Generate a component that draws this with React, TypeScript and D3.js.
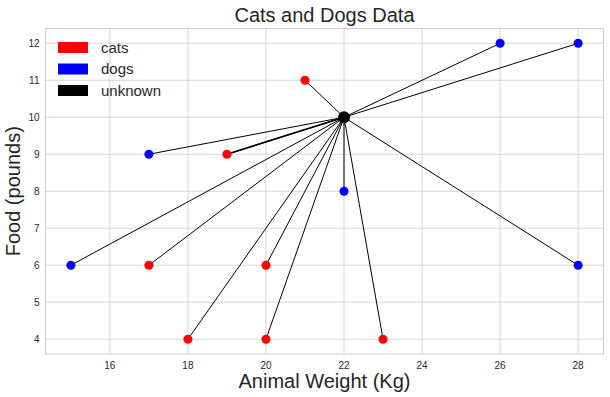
import * as d3 from "d3";

const catsX = [21, 19, 17, 20, 18, 20, 23];
const catsY = [11, 9, 6, 6, 4, 4, 4];
const dogsX = [26, 28, 17, 22, 15, 28];
const dogsY = [12, 12, 9, 8, 6, 6];
const unknownX = [22];
const unknownY = [10];
const xTicks = [16, 18, 20, 22, 24, 26, 28];
const yTicks = [4, 5, 6, 7, 8, 9, 10, 11, 12];
const legendItems = [
  { label: "cats", color: "#ff0000" },
  { label: "dogs", color: "#0000ff" },
  { label: "unknown", color: "#000000" },
];

const W = 610;
const H = 397;
const margin = { top: 28.5, right: 6.5, bottom: 43, left: 45.5 };
const font = "'Liberation Sans', Arial, sans-serif";

export default function App() {
  const x = d3
    .scaleLinear()
    .domain([14.35, 28.65])
    .range([margin.left, W - margin.right]);
  const y = d3
    .scaleLinear()
    .domain([3.6, 12.4])
    .range([H - margin.bottom, margin.top]);

  const cats = catsX.map((v, i) => ({ x: v, y: catsY[i] }));
  const dogs = dogsX.map((v, i) => ({ x: v, y: dogsY[i] }));
  const center = { x: unknownX[0], y: unknownY[0] };
  const line = d3
    .line<{ x: number; y: number }>()
    .x((d) => x(d.x))
    .y((d) => y(d.y));

  const [x0, x1] = x.range();
  const [y0, y1] = y.range();

  return (
    <svg
      width={W}
      height={H}
      style={{ position: "absolute", left: 0, top: 0, fontFamily: font }}
    >
      <rect width={W} height={H} fill="#fff" />
      {/* grid */}
      {xTicks.map((t) => (
        <line key={"gx" + t} x1={x(t)} x2={x(t)} y1={y0} y2={y1} stroke="#cccccc" strokeWidth={0.8} />
      ))}
      {yTicks.map((t) => (
        <line key={"gy" + t} x1={x0} x2={x1} y1={y(t)} y2={y(t)} stroke="#cccccc" strokeWidth={0.8} />
      ))}
      <rect x={x0} y={y1} width={x1 - x0} height={y0 - y1} fill="none" stroke="#cccccc" strokeWidth={1} />

      {/* tick labels */}
      {xTicks.map((t) => (
        <text key={"tx" + t} x={x(t)} y={y0 + 15} textAnchor="middle" fontSize={10} fill="#262626">
          {t}
        </text>
      ))}
      {yTicks.map((t) => (
        <text key={"ty" + t} x={x0 - 6} y={y(t) + 3.5} textAnchor="end" fontSize={10} fill="#262626">
          {t}
        </text>
      ))}

      {/* connecting lines */}
      {[...cats, ...dogs].map((p, i) => (
        <path key={"l" + i} d={line([p, center]) ?? ""} stroke="#000" strokeWidth={1} fill="none" />
      ))}
      <path d={line([cats[1], center]) ?? ""} stroke="#000" strokeWidth={1.6} fill="none" />

      {cats.map((p, i) => (
        <circle key={"c" + i} cx={x(p.x)} cy={y(p.y)} r={4.5} fill="#ff0000" />
      ))}
      {dogs.map((p, i) => (
        <circle key={"d" + i} cx={x(p.x)} cy={y(p.y)} r={4.5} fill="#0000ff" />
      ))}
      <circle cx={x(center.x)} cy={y(center.y)} r={6} fill="#000" />

      {/* legend */}
      {legendItems.map((it, i) => (
        <g key={it.label} transform={`translate(58, ${42 + i * 21.5})`}>
          <rect x={0} y={0} width={30} height={11} fill={it.color} />
          <text x={43} y={10.5} fontSize={15} fill="#262626">
            {it.label}
          </text>
        </g>
      ))}

      {/* titles */}
      <text x={(x0 + x1) / 2} y={22} textAnchor="middle" fontSize={20} fill="#262626">
        Cats and Dogs Data
      </text>
      <text x={(x0 + x1) / 2} y={388} textAnchor="middle" fontSize={20} fill="#262626">
        Animal Weight (Kg)
      </text>
      <text
        transform={`translate(20, ${(y0 + y1) / 2}) rotate(-90)`}
        textAnchor="middle"
        fontSize={20}
        fill="#262626"
      >
        Food (pounds)
      </text>
    </svg>
  );
}
